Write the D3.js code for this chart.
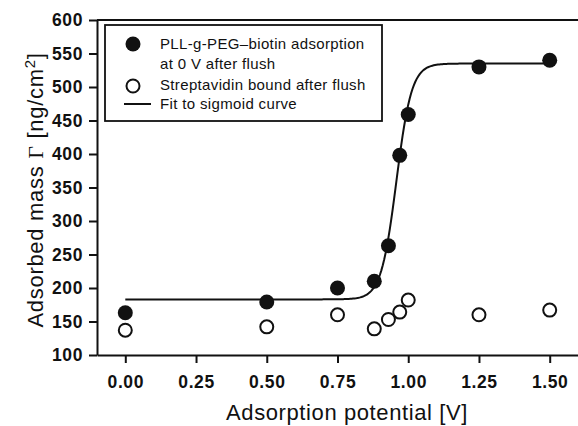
<!DOCTYPE html>
<html>
<head>
<meta charset="utf-8">
<script src="https://cdn.jsdelivr.net/npm/d3@7"></script>
<style>
  body { margin: 0; background: #fff; }
  svg { display: block; font-family: "Liberation Sans", Arial, sans-serif; }
  .axis text { font-size: 17.5px; font-weight: bold; fill: #111; letter-spacing: 0.6px; }
  .axis path, .axis line { stroke: #111; stroke-width: 2; }
</style>
</head>
<body>
<div id="chart"></div>
<script>
const width = 578;
const height = 426;

// potentials [V]
const potentials = [0, 0.5, 0.75, 0.88, 0.93, 0.97, 1.0, 1.25, 1.5];
// PLL-g-PEG-biotin adsorption at 0 V after flush [ng/cm2]
const pllValues = [163, 179, 200, 210, 263, 398, 459, 530, 540];
// streptavidin bound after flush [ng/cm2]
const strepValues = [137, 142, 160, 139, 153, 164, 182, 160, 167];

// sigmoid fit parameters
const fitBottom = 183;
const fitSpan = 352;
const fitX0 = 0.958;
const fitWidth = 0.027;

const xTicks = [0, 0.25, 0.5, 0.75, 1.0, 1.25, 1.5];
const yTicks = [100, 150, 200, 250, 300, 350, 400, 450, 500, 550, 600];

const plotLeft = 97, plotRight = 578, plotTop = 20, plotBottom = 355;

const x = d3.scaleLinear().domain([-0.1, 1.6]).range([plotLeft, plotRight]);
const y = d3.scaleLinear().domain([100, 600]).range([plotBottom, plotTop]);

const svg = d3.select("#chart")
    .append("svg")
    .attr("width", width)
    .attr("height", height);

// frame top
svg.append("line")
    .attr("x1", plotLeft).attr("x2", plotRight)
    .attr("y1", plotTop).attr("y2", plotTop)
    .attr("stroke", "#111")
    .attr("stroke-width", 2);

svg.append("g")
    .attr("class", "axis")
    .attr("transform", `translate(0,${plotBottom})`)
    .call(d3.axisBottom(x)
        .tickValues(xTicks)
        .tickFormat(d3.format(".2f"))
        .tickSize(8)
        .tickSizeOuter(0)
        .tickPadding(13));

svg.append("g")
    .attr("class", "axis")
    .attr("transform", `translate(${plotLeft},0)`)
    .call(d3.axisLeft(y)
        .tickValues(yTicks)
        .tickSize(8)
        .tickSizeOuter(0)
        .tickPadding(6));

// axis titles
svg.append("text")
    .attr("x", 347)
    .attr("y", 420)
    .attr("text-anchor", "middle")
    .attr("font-size", 22)
    .attr("letter-spacing", 0.6)
    .attr("fill", "#111")
    .text("Adsorption potential [V]");

const yTitle = svg.append("text")
    .attr("transform", "translate(43,190) rotate(-90)")
    .attr("text-anchor", "middle")
    .attr("font-size", 22)
    .attr("letter-spacing", 0.7)
    .attr("fill", "#111");
yTitle.append("tspan").text("Adsorbed mass ");
yTitle.append("tspan").attr("font-family", "Liberation Serif, serif").text("Γ");
yTitle.append("tspan").text(" [ng/cm");
yTitle.append("tspan").attr("font-size", 15).attr("dy", -8).text("2");
yTitle.append("tspan").attr("dy", 8).text("]");

// sigmoid fit line
const sigmoid = v => fitBottom + fitSpan / (1 + Math.exp(-(v - fitX0) / fitWidth));
const fitX = d3.range(0, 1.5001, 0.005);
svg.append("path")
    .datum(fitX)
    .attr("fill", "none")
    .attr("stroke", "#111")
    .attr("stroke-width", 2)
    .attr("d", d3.line().x(d => x(d)).y(d => y(sigmoid(d))));

// streptavidin (open)
svg.append("g")
    .selectAll("circle")
    .data(potentials)
    .enter().append("circle")
    .attr("cx", d => x(d))
    .attr("cy", (d, i) => y(strepValues[i]))
    .attr("r", 6.5)
    .attr("fill", "#fff")
    .attr("stroke", "#111")
    .attr("stroke-width", 2);

// PLL-g-PEG-biotin (filled)
svg.append("g")
    .selectAll("circle")
    .data(potentials)
    .enter().append("circle")
    .attr("cx", d => x(d))
    .attr("cy", (d, i) => y(pllValues[i]))
    .attr("r", 7.5)
    .attr("fill", "#111");

// legend
const legend = svg.append("g");
legend.append("rect")
    .attr("x", 105).attr("y", 25)
    .attr("width", 277).attr("height", 96)
    .attr("fill", "#fff")
    .attr("stroke", "#111")
    .attr("stroke-width", 1.8);

legend.append("circle")
    .attr("cx", 133).attr("cy", 44)
    .attr("r", 7.5)
    .attr("fill", "#111");
legend.append("circle")
    .attr("cx", 133).attr("cy", 86)
    .attr("r", 6.5)
    .attr("fill", "#fff")
    .attr("stroke", "#111")
    .attr("stroke-width", 2);
legend.append("line")
    .attr("x1", 124).attr("x2", 151)
    .attr("y1", 104).attr("y2", 104)
    .attr("stroke", "#111")
    .attr("stroke-width", 2);

const legendLines = [
    ["PLL-g-PEG–biotin adsorption", 49],
    ["at 0 V after flush", 69],
    ["Streptavidin bound after flush", 90],
    ["Fit to sigmoid curve", 109]
];
legend.selectAll("text.lg")
    .data(legendLines)
    .enter().append("text")
    .attr("class", "lg")
    .attr("x", 160)
    .attr("y", d => d[1])
    .attr("font-size", 15)
    .attr("letter-spacing", 0.35)
    .attr("fill", "#111")
    .text(d => d[0]);
</script>
</body>
</html>
